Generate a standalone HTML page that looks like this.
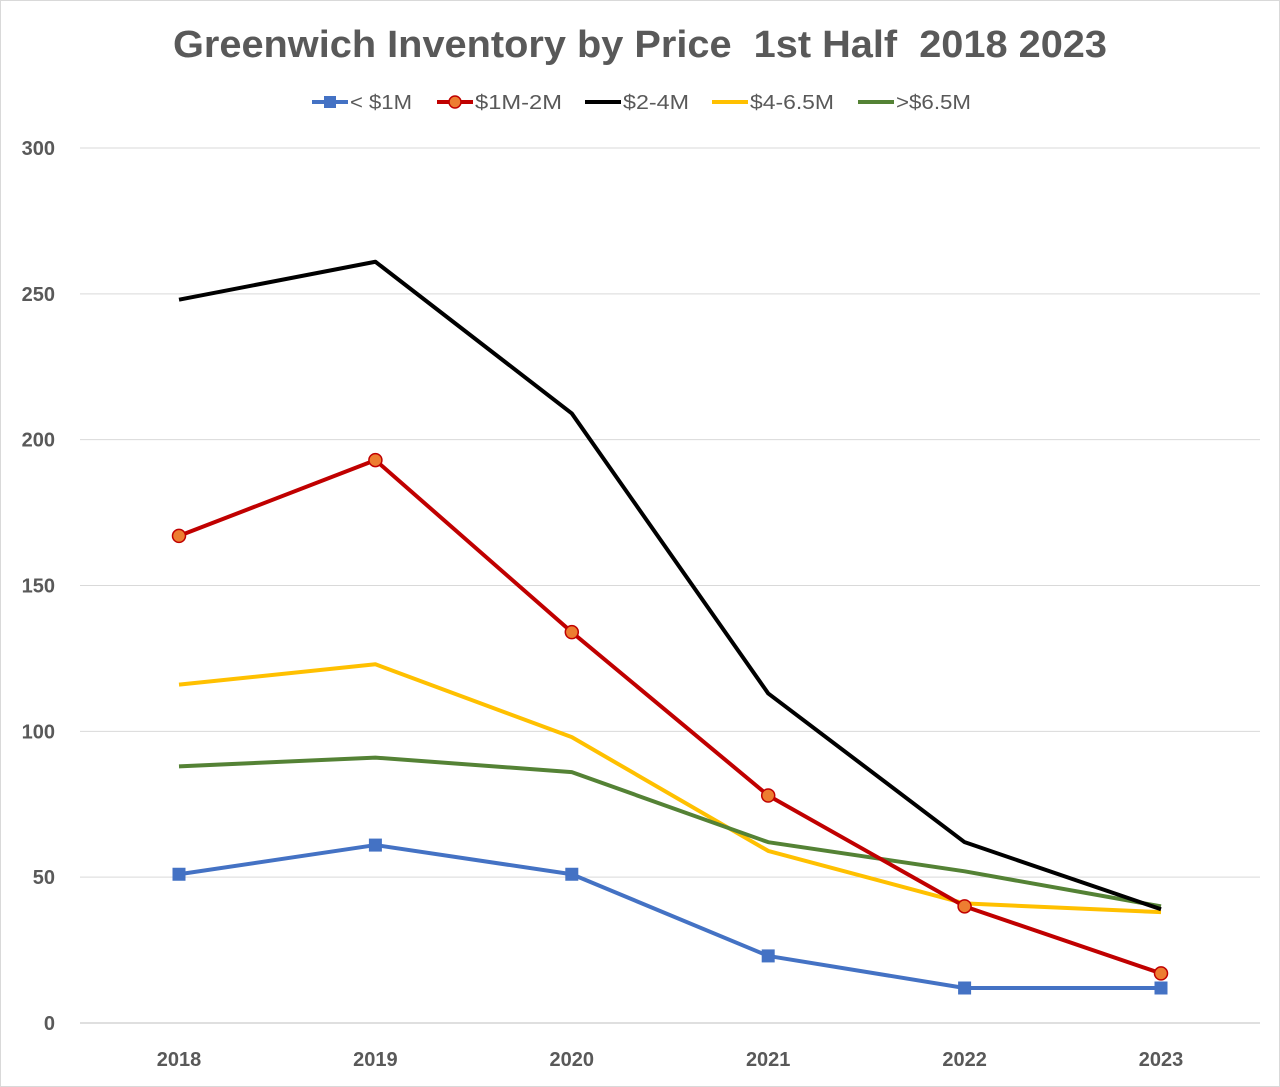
<!DOCTYPE html>
<html><head><meta charset="utf-8"><style>
body{margin:0;background:#fff;}
svg{display:block;font-family:"Liberation Sans",sans-serif;}
</style></head><body>
<svg id="c" width="1280" height="1087">
<rect x="0.5" y="0.5" width="1279" height="1086" fill="#fff" stroke="#d9d9d9"/>
<text x="173" y="57" font-size="38" font-weight="bold" fill="#595959" style="white-space:pre" textLength="934" lengthAdjust="spacingAndGlyphs">Greenwich Inventory by Price  1st Half  2018 2023</text>
<g id="legend"></g>
<g id="grid"></g>
<g id="series"></g>
</svg>
<script>
const years=["2018","2019","2020","2021","2022","2023"];
const yTicks=[0,50,100,150,200,250,300];
const under1M=[51,61,51,23,12,12];
const m1to2=[167,193,134,78,40,17];
const m2to4=[248,261,209,113,62,39];
const m4to65=[116,123,98,59,41,38];
const over65=[88,91,86,62,52,40];
const seriesNames=["< $1M","$1M-2M","$2-4M","$4-6.5M",">$6.5M"];
const NS="http://www.w3.org/2000/svg";
const X=i=>179+i*196.4;
const Y=v=>1023-v*875/300;
function mk(tag,attrs,parent){const e=document.createElementNS(NS,tag);for(const k in attrs)e.setAttribute(k,attrs[k]);parent.appendChild(e);return e;}
const grid=document.getElementById('grid'),ser=document.getElementById('series'),leg=document.getElementById('legend');
yTicks.forEach(t=>{
 const l=mk('line',{x1:80,x2:1260,y1:Y(t),y2:Y(t),stroke:t===0?'#bfbfbf':'#d9d9d9','stroke-width':1},grid);
 
 
 const tx=mk('text',{x:55,y:Y(t)+7,'text-anchor':'end','font-size':20,'font-weight':'bold',fill:'#595959'},grid);
 tx.textContent=t;
 
 
});
years.forEach((y,i)=>{
 const tx=mk('text',{x:X(i),y:1066,'text-anchor':'middle','font-size':20,'font-weight':'bold',fill:'#595959'},grid);
 tx.textContent=y;
 
 
});
const all=[under1M,m1to2,m2to4,m4to65,over65];
const colors=["#4472c4","#c00000","#000000","#ffc000","#548235"];
const markers=["square","circle","none","none","none"];
const order=[3,4,2,1,0];
order.forEach(s=>{
 const d=all[s].map((v,i)=>(i?'L':'M')+X(i)+','+Y(v)).join(' ');
 const p=mk('path',{d:d,fill:'none',stroke:colors[s],'stroke-width':4,'stroke-linejoin':'round'},ser);
 
 
 all[s].forEach((v,i)=>{
  let m=null;
  if(markers[s]==='square')m=mk('rect',{x:X(i)-6.5,y:Y(v)-6.5,width:13,height:13,fill:'#4472c4'},ser);
  if(markers[s]==='circle')m=mk('circle',{cx:X(i),cy:Y(v),r:6.5,fill:'#ed7d31',stroke:'#c00000','stroke-width':1.5},ser);
  if(m){
  }
 });
});
const lx=[312,437,585,712,858];
const lw=[62,87,66,84,75];
seriesNames.forEach((n,s)=>{
 const l=mk('line',{x1:lx[s],x2:lx[s]+36,y1:102,y2:102,stroke:colors[s],'stroke-width':4},leg);
 
 
 if(markers[s]==='square'){const m=mk('rect',{x:lx[s]+12,y:96,width:12,height:12,fill:'#4472c4'},leg);}
 if(markers[s]==='circle'){const m=mk('circle',{cx:lx[s]+18,cy:102,r:6,fill:'#ed7d31',stroke:'#c00000','stroke-width':1.5},leg);}
 const t=mk('text',{x:lx[s]+38,y:109,'font-size':20,fill:'#595959',textLength:lw[s],lengthAdjust:'spacingAndGlyphs'},leg);
 t.textContent=n;
 
 
});
</script>
</body></html>
